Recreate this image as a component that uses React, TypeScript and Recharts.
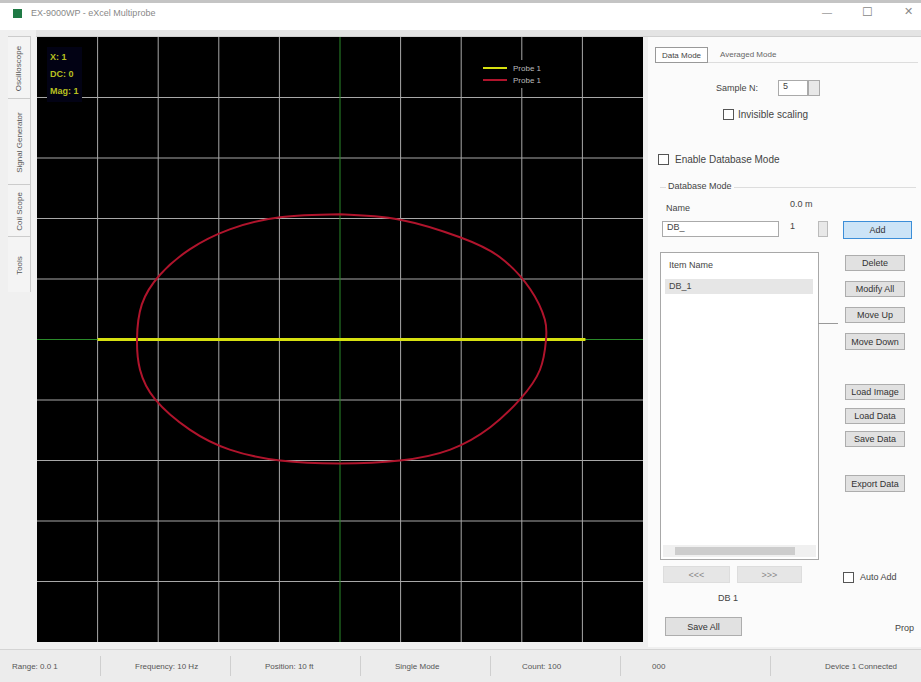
import React from 'react';
import { LineChart, Line, XAxis, YAxis, ReferenceLine } from 'recharts';

// grid lines (10 divisions each way, inner lines only)
const gridTicks = [-4, -3, -2, -1, 1, 2, 3, 4];

// probe 1 trace (yellow, flat)
const traceX = [-4.0, -2.0, 0.0, 2.0, 4.05];
const traceY = [0.0, 0.0, 0.0, 0.0, 0.0];

const loopX = [0, 0.99, 1.98, 2.64, 3.14, 3.38, 3.4, 3.3, 2.97, 2.48, 1.82, 0.99, 0, -0.99, -1.82, -2.48, -3.05, -3.3, -3.35, -3.27, -2.97, -2.48, -1.82, -0.99, 0];
const loopY = [2.07, 1.98, 1.69, 1.36, 0.83, 0.33, 0, -0.5, -0.99, -1.45, -1.82, -2.0, -2.05, -2.0, -1.82, -1.49, -0.99, -0.5, 0, 0.58, 1.07, 1.49, 1.82, 2.02, 2.07];

const readouts = ['X: 1', 'DC: 0', 'Mag: 1'];
const legendNames = ['Probe 1', 'Probe 1'];
const statusItems = ['Range: 0.0 1', 'Frequency: 10 Hz', 'Position: 10 ft', 'Single Mode', 'Count: 100', '000', 'Device 1 Connected'];

const traceData = traceX.map((x, i) => ({ x, y: traceY[i] }));
const loopData = loopX.map((x, i) => ({ x, y: loopY[i] }));

const FONT = '"Liberation Sans", Arial, sans-serif';
const YELLOW = '#d6e010';
const RED = '#b0142c';
const GRID = '#a8a8a8';
const AXIS_GREEN = '#2a8a2a';

const btn = (left: number, top: number, w: number, h: number, label: string, extra?: React.CSSProperties) => (
  <div style={{ position: 'absolute', left, top, width: w, height: h, background: '#e1e1e1', border: '1px solid #adadad', boxSizing: 'border-box', fontSize: 9, color: '#333', display: 'flex', alignItems: 'center', justifyContent: 'center', ...extra }}>{label}</div>
);

const txt = (left: number, top: number, label: string, extra?: React.CSSProperties) => (
  <div style={{ position: 'absolute', left, top, fontSize: 9, color: '#444', whiteSpace: 'nowrap', ...extra }}>{label}</div>
);

const check = (left: number, top: number) => (
  <div style={{ position: 'absolute', left, top, width: 9, height: 9, border: '1px solid #555', background: '#fff' }} />
);

export default function App() {
  return (
    <div style={{ position: 'fixed', left: 0, top: 0, width: 921, height: 682, background: '#f0f0f0', fontFamily: FONT, overflow: 'hidden' }}>
      {/* title bar */}
      <div style={{ position: 'absolute', left: 0, top: 0, width: 921, height: 3, background: '#c4c4c4' }} />
      <div style={{ position: 'absolute', left: 0, top: 3, width: 921, height: 27, background: '#fff' }} />
      <div style={{ position: 'absolute', left: 13, top: 9, width: 9, height: 9, background: '#1f7a45' }} />
      {txt(31, 8, 'EX-9000WP - eXcel Multiprobe', { color: '#888', fontSize: 9 })}
      {txt(822, 7, '—', { color: '#999', fontSize: 10 })}
      {txt(862, 5, '☐', { color: '#888', fontSize: 12 })}
      {txt(904, 5, '✕', { color: '#888', fontSize: 11 })}
      <div style={{ position: 'absolute', left: 36, top: 30, width: 885, height: 6, background: '#e4e4e4', borderBottom: '1px solid #d0d0d0' }} />

      {/* left vertical tabs */}
      <div style={{ position: 'absolute', left: 8, top: 36, width: 22, height: 256, background: '#f4f4f4', borderRight: '1px solid #ccc' }}>
        {['Tools', 'Coil Scope', 'Signal Generator', 'Oscilloscope'].map((t, i) => (
          <div key={t} style={{ position: 'absolute', left: 0, top: [200, 148, 62, 0][i], width: 22, height: [56, 52, 86, 62][i], borderTop: '1px solid #ccc', display: 'flex', alignItems: 'center', justifyContent: 'center' }}>
            <div style={{ transform: 'rotate(-90deg)', fontSize: 8, color: '#555', whiteSpace: 'nowrap' }}>{t}</div>
          </div>
        ))}
      </div>

      {/* chart */}
      <div style={{ position: 'absolute', left: 37, top: 37, width: 606, height: 605, background: '#000' }}>
        <LineChart width={606} height={605} margin={{ top: 0, right: 0, bottom: 0, left: 0 }}>
          <XAxis type="number" dataKey="x" domain={[-5, 5]} hide allowDataOverflow />
          <YAxis type="number" dataKey="y" domain={[-5, 5]} hide allowDataOverflow />
          {gridTicks.map((t) => (
            <ReferenceLine key={'v' + t} x={t} stroke={GRID} strokeWidth={1} />
          ))}
          {gridTicks.map((t) => (
            <ReferenceLine key={'h' + t} y={t} stroke={GRID} strokeWidth={1} />
          ))}
          <ReferenceLine x={0} stroke={AXIS_GREEN} strokeWidth={1} />
          <ReferenceLine y={0} stroke={AXIS_GREEN} strokeWidth={1} />
          <Line data={traceData} dataKey="y" name="Probe 1" type="linear" stroke={YELLOW} strokeWidth={3} dot={false} isAnimationActive={false} />
          <Line data={loopData} dataKey="y" name="Probe 1" type="natural" stroke={RED} strokeWidth={2} dot={false} isAnimationActive={false} />
        </LineChart>
        <div style={{ position: 'absolute', left: 10, top: 10, background: '#020214', padding: '2px 3px' }}>
          {readouts.map((r) => (
            <div key={r} style={{ fontSize: 9, fontWeight: 700, color: '#b8c020', lineHeight: '17px' }}>{r}</div>
          ))}
        </div>
        <div style={{ position: 'absolute', left: 442, top: 23, background: '#000', padding: '2px 4px', fontSize: 8, color: '#bbb' }}>
          {legendNames.map((n, i) => (
            <div key={i} style={{ display: 'flex', alignItems: 'center', gap: 6, height: 12 }}>
              <div style={{ width: 24, height: 2, background: i === 0 ? YELLOW : RED }} />
              <span>{n}</span>
            </div>
          ))}
        </div>
      </div>

      {/* right panel */}
      <div style={{ position: 'absolute', left: 648, top: 37, width: 273, height: 610, background: '#fbfbfb' }} />
      <div style={{ position: 'absolute', left: 655, top: 47, width: 53, height: 16, border: '1px solid #999', background: '#fff', boxSizing: 'border-box', fontSize: 8, color: '#444', display: 'flex', alignItems: 'center', justifyContent: 'center' }}>Data Mode</div>
      {txt(720, 50, 'Averaged Mode', { fontSize: 8, color: '#666' })}
      <div style={{ position: 'absolute', left: 708, top: 62, width: 210, height: 1, background: '#ddd' }} />
      {txt(716, 83, 'Sample N:')}
      <div style={{ position: 'absolute', left: 778, top: 80, width: 30, height: 16, border: '1px solid #aaa', background: '#fff', boxSizing: 'border-box', fontSize: 9, paddingLeft: 4, color: '#444' }}>5</div>
      <div style={{ position: 'absolute', left: 808, top: 80, width: 12, height: 16, border: '1px solid #aaa', background: '#e8e8e8', boxSizing: 'border-box' }} />
      {check(723, 109)}
      {txt(738, 109, 'Invisible scaling', { fontSize: 10 })}
      {check(658, 154)}
      {txt(675, 154, 'Enable Database Mode', { fontSize: 10 })}
      <div style={{ position: 'absolute', left: 660, top: 187, width: 256, height: 1, background: '#ddd' }} />
      {txt(666, 181, 'Database Mode', { background: '#fbfbfb', padding: '0 2px' })}
      {txt(666, 203, 'Name')}
      {txt(790, 199, '0.0 m')}
      <div style={{ position: 'absolute', left: 662, top: 221, width: 117, height: 16, border: '1px solid #aaa', background: '#fff', boxSizing: 'border-box', fontSize: 9, paddingLeft: 4, color: '#444' }}>DB_</div>
      <div style={{ position: 'absolute', left: 786, top: 221, width: 22, height: 16, fontSize: 9, color: '#444', paddingLeft: 4 }}>1</div>
      <div style={{ position: 'absolute', left: 818, top: 221, width: 10, height: 16, border: '1px solid #bbb', background: '#e8e8e8', boxSizing: 'border-box' }} />
      {btn(843, 221, 69, 18, 'Add', { background: '#cce4f7', border: '1px solid #3c8ed8' })}

      <div style={{ position: 'absolute', left: 660, top: 252, width: 159, height: 308, border: '1px solid #a8a8a8', background: '#fff', boxSizing: 'border-box' }}>
        {txt(8, 7, 'Item Name')}
        <div style={{ position: 'absolute', left: 4, top: 26, width: 148, height: 15, background: '#e6e6e6' }} />
        {txt(8, 28, 'DB_1')}
        <div style={{ position: 'absolute', left: 2, top: 292, width: 153, height: 12, background: '#f0f0f0' }} />
        <div style={{ position: 'absolute', left: 14, top: 294, width: 120, height: 8, background: '#cdcdcd' }} />
      </div>

      {btn(845, 255, 60, 16, 'Delete')}
      {btn(845, 281, 60, 16, 'Modify All')}
      {btn(845, 307, 60, 16, 'Move Up')}
      {btn(845, 333, 60, 17, 'Move Down')}
      {btn(845, 384, 60, 16, 'Load Image')}
      {btn(845, 408, 60, 16, 'Load Data')}
      {btn(845, 431, 60, 16, 'Save Data')}
      {btn(845, 475, 60, 17, 'Export Data')}
      <div style={{ position: 'absolute', left: 818, top: 323, width: 20, height: 1, background: '#999' }} />

      {btn(663, 566, 67, 17, '<<<', { background: '#e6e6e6', border: '1px solid #ddd', color: '#888' })}
      {btn(737, 566, 65, 17, '>>>', { background: '#e6e6e6', border: '1px solid #ddd', color: '#888' })}
      {check(843, 572)}
      {txt(860, 572, 'Auto Add')}
      {txt(718, 593, 'DB 1')}
      {btn(665, 617, 77, 19, 'Save All')}
      {txt(895, 623, 'Prop')}

      {/* status bar */}
      <div style={{ position: 'absolute', left: 0, top: 649, width: 921, height: 33, background: '#ececec', borderTop: '1px solid #d4d4d4' }}>
        {statusItems.map((s, i) => (
          <div key={s} style={{ position: 'absolute', left: [12, 135, 265, 395, 522, 652, 825][i], top: 12, fontSize: 8, color: '#555', whiteSpace: 'nowrap' }}>{s}</div>
        ))}
        {[100, 230, 360, 490, 620, 770].map((x) => (
          <div key={x} style={{ position: 'absolute', left: x, top: 6, width: 1, height: 20, background: '#cfcfcf' }} />
        ))}
      </div>
    </div>
  );
}
